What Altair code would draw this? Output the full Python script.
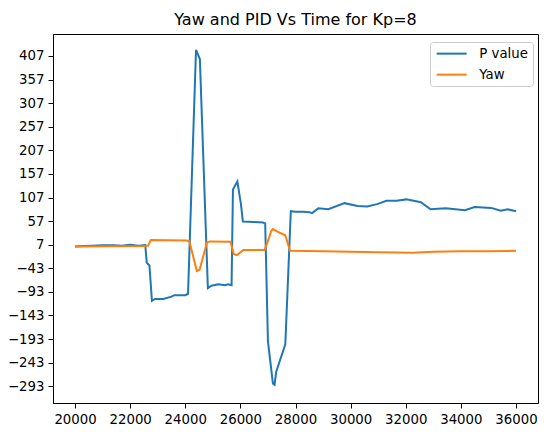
import altair as alt
import pandas as pd

# P value trace
p_time = [20000, 20300, 20600, 21000, 21400, 21700, 22000, 22300, 22550, 22600,
          22700, 22790, 22900, 23200, 23500, 23600, 24000, 24100, 24390, 24530,
          24820, 24950, 25200, 25450, 25550, 25680, 25730, 25890, 26020, 26090,
          26500, 26820, 26900, 27000, 27180, 27240, 27300, 27630, 27830, 28000,
          28300, 28500, 28600, 28830, 29190, 29780, 30250, 30600, 30960, 31300,
          31670, 32020, 32550, 32900, 33450, 33800, 34150, 34500, 35100, 35450,
          35700, 36000]
p_value = [3, 4, 5, 6, 6, 5, 7, 5, 6, -31,
           -37, -112, -108, -108, -103, -100, -100, -97, 420, 400,
           -85, -80, -77, -79, -77, -79, 124, 141, 93, 56,
           55, 54, 52, -198, -287, -290, -262, -204, 78, 77,
           77, 76, 74, 84, 82, 95, 89, 88, 93, 100,
           100, 103, 97, 82, 84, 82, 80, 87, 85, 79,
           82, 78]

# Yaw trace
yaw_time = [20000, 22550, 22650, 22750, 24050, 24150, 24420, 24520, 24790, 24900,
            25640, 25760, 25880, 26110, 26880, 27000, 27120, 27180, 27360, 27630,
            27800, 29000, 30000, 31000, 32260, 33000, 34000, 35000, 36000]
yaw_value = [3, 4, 5, 17, 16, 14, -49, -46, 12, 14,
             13, -13, -15, -4, -4, 15, 36, 40, 34, 27,
             -6, -7, -8, -9, -10, -8, -7, -7, -6]

series_names = ["P value", "Yaw"]
series_colors = ["#1f77b4", "#ff7f0e"]
y_ticks = [407, 357, 307, 257, 207, 157, 107, 57, 7, -43, -93, -143, -193, -243, -293]
x_ticks = list(range(20000, 36001, 2000))

df = pd.concat([
    pd.DataFrame({"time": p_time, "value": p_value, "series": "P value", "order": range(len(p_time))}),
    pd.DataFrame({"time": yaw_time, "value": yaw_value, "series": "Yaw", "order": range(len(yaw_time))}),
])

font = "DejaVu Sans"

chart = (
    alt.Chart(df)
    .mark_line(strokeWidth=2)
    .encode(
        x=alt.X("time:Q")
        .scale(domain=[19200, 36800], nice=False, zero=False)
        .axis(values=x_ticks, format="d", title=None),
        y=alt.Y("value:Q")
        .scale(domain=[-328.5, 453.5], nice=False, zero=False)
        .axis(values=y_ticks, format="d", title=None),
        color=alt.Color("series:N")
        .scale(domain=series_names, range=series_colors)
        .legend(
            title=None,
            orient="none",
            legendX=377,
            legendY=8,
            symbolType="M-1,0L5,0",
            symbolSize=100,
            symbolStrokeWidth=2,
            labelOffset=31,
            labelFontSize=13.3,
            labelFont=font,
            labelColor="black",
            strokeColor="#cccccc",
            fillColor="white",
            cornerRadius=3,
            padding=5,
            rowPadding=7,
        ),
        order="order:Q",
    )
    .properties(
        width=485,
        height=369,
        title=alt.TitleParams(
            "Yaw and PID Vs Time for Kp=8",
            fontSize=16,
            font=font,
            fontWeight="normal",
            color="black",
            offset=6,
        ),
        autosize=alt.AutoSizeParams(type="none"),
        padding={"left": 45, "top": 26, "right": 12, "bottom": 30},
    )
    .configure_axis(
        grid=False,
        domainColor="black",
        tickColor="black",
        tickSize=5,
        labelColor="black",
        labelFont=font,
        labelFontSize=13.3,
        labelPadding=4,
    )
    .configure_view(stroke="black", strokeWidth=1)
)

chart.save("out.html", embed_options={"renderer": "svg", "actions": False})
